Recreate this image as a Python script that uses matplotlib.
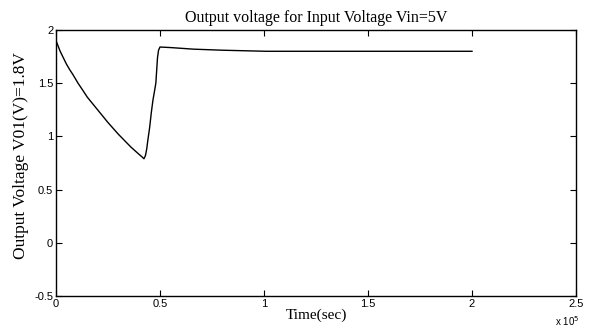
import numpy as np
import matplotlib
matplotlib.use("Agg")
import matplotlib.pyplot as plt
from matplotlib.ticker import FuncFormatter

# time in units of 1e5 sec, output voltage in V
t_1e5 = [0.0, 0.01, 0.02, 0.035, 0.05, 0.065, 0.08, 0.106, 0.13, 0.15, 0.175, 0.2, 0.225,
         0.25, 0.275, 0.3, 0.32, 0.34, 0.36, 0.38, 0.40, 0.415, 0.423,
         0.43, 0.436, 0.442, 0.45, 0.458, 0.466, 0.474, 0.48, 0.484, 0.488, 0.493, 0.5,
         0.55, 0.66, 0.8, 1.01, 1.3, 1.6, 2.0]
vout = [1.9, 1.85, 1.8, 1.74, 1.68, 1.63, 1.585, 1.5, 1.43, 1.37, 1.31, 1.25, 1.19,
        1.13, 1.075, 1.02, 0.98, 0.94, 0.9, 0.865, 0.83, 0.805, 0.79,
        0.82, 0.88, 0.97, 1.08, 1.22, 1.34, 1.43, 1.5, 1.62, 1.74, 1.81, 1.84,
        1.835, 1.82, 1.81, 1.80, 1.80, 1.80, 1.80]
xticks = [0, 0.5, 1, 1.5, 2, 2.5]
yticks = [-0.5, 0, 0.5, 1, 1.5, 2]

fig = plt.figure(figsize=(5.91, 3.33), dpi=100)
ax = fig.add_axes([56/591, 1 - 296/333, 520/591, 266/333])

t = np.array(t_1e5) * 1e5
ax.plot(t, vout, color="black", linewidth=1.0)

ax.set_xlim(0, 2.5e5)
ax.set_ylim(-0.5, 2)
ax.set_xticks([x * 1e5 for x in xticks])
ax.set_yticks(yticks)
ax.xaxis.set_major_formatter(FuncFormatter(lambda v, p: "%g" % (v / 1e5)))
ax.yaxis.set_major_formatter(FuncFormatter(lambda v, p: "%g" % v))
ax.tick_params(direction="in", top=True, right=True, length=4, width=0.8,
               labelsize=8, pad=2)
for lbl in ax.get_xticklabels() + ax.get_yticklabels():
    lbl.set_family("Liberation Sans")
for s in ax.spines.values():
    s.set_linewidth(1.0)

serif = "Liberation Serif"
ax.set_title("Output voltage for Input Voltage Vin=5V", family=serif, fontsize=11.5, pad=6)
ax.set_xlabel("Time(sec)", family=serif, fontsize=11, labelpad=0)
ax.set_ylabel("Output Voltage V01(V)=1.8V", family=serif, fontsize=12.5)
ax.yaxis.set_label_coords(-0.052, 0.527)
fig.text(555/591, 1 - 326/333, r"x 10$^5$", family="Liberation Sans", fontsize=7,
         ha="left", va="baseline")

fig.savefig("out.png", dpi=100)
